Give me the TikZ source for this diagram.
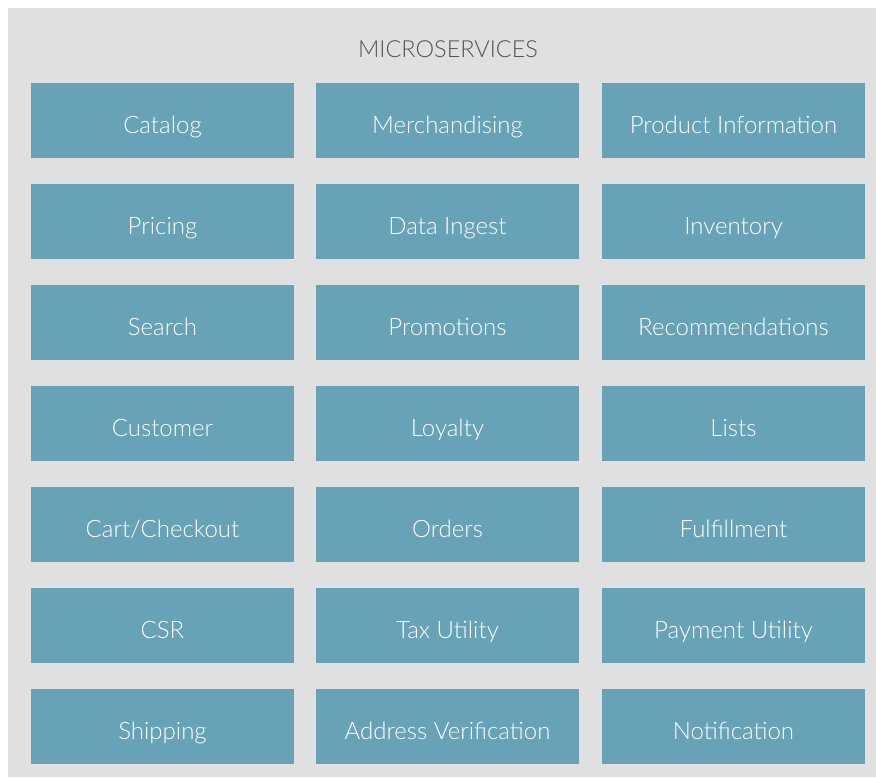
\documentclass[tikz,border=0pt]{standalone}
\usepackage{fontspec}
\setmainfont{Lato Light}
\usetikzlibrary{positioning}
\definecolor{panelgrey}{HTML}{E0E0E0}
\definecolor{svcblue}{HTML}{67A2B7}
\definecolor{titlegrey}{HTML}{555555}

\begin{document}
\begin{tikzpicture}[x=1pt,y=-1pt]
\tikzstyle{service}=[fill=svcblue,draw=none,minimum width=263pt,minimum height=75pt,
  inner sep=0pt,text height=26pt,text depth=0pt,text=white,font=\fontsize{24}{28}\selectfont]
\useasboundingbox (0,0) rectangle (876,777);
\fill[panelgrey] (8,8) rectangle (876,777);
\node[anchor=base,text=titlegrey,font=\fontsize{23.5}{28}\selectfont] (title) at (448,57.5) {MICROSERVICES};
% row 1
\node[service] (catalog) at (162.5,120.5) {Catalog};
\node[service] (merch) at (447.5,120.5) {Merchandising};
\node[service] (prodinfo) at (733.5,120.5) {Product Information};
% row 2
\node[service] (pricing) at (162.5,221.5) {Pricing};
\node[service] (ingest) at (447.5,221.5) {Data Ingest};
\node[service] (inventory) at (733.5,221.5) {Inventory};
% row 3
\node[service] (search) at (162.5,322.5) {Search};
\node[service] (promos) at (447.5,322.5) {Promotions};
\node[service] (recs) at (733.5,322.5) {Recommendations};
% row 4
\node[service] (customer) at (162.5,423.5) {Customer};
\node[service] (loyalty) at (447.5,423.5) {Loyalty};
\node[service] (lists) at (733.5,423.5) {Lists};
% row 5
\node[service] (cart) at (162.5,524.5) {Cart/Checkout};
\node[service] (orders) at (447.5,524.5) {Orders};
\node[service] (fulfil) at (733.5,524.5) {Fulfillment};
% row 6
\node[service] (csr) at (162.5,625.5) {CSR};
\node[service] (tax) at (447.5,625.5) {Tax Utility};
\node[service] (payment) at (733.5,625.5) {Payment Utility};
% row 7
\node[service] (shipping) at (162.5,726.5) {Shipping};
\node[service] (address) at (447.5,726.5) {Address Verification};
\node[service] (notify) at (733.5,726.5) {Notification};
\end{tikzpicture}
\end{document}
